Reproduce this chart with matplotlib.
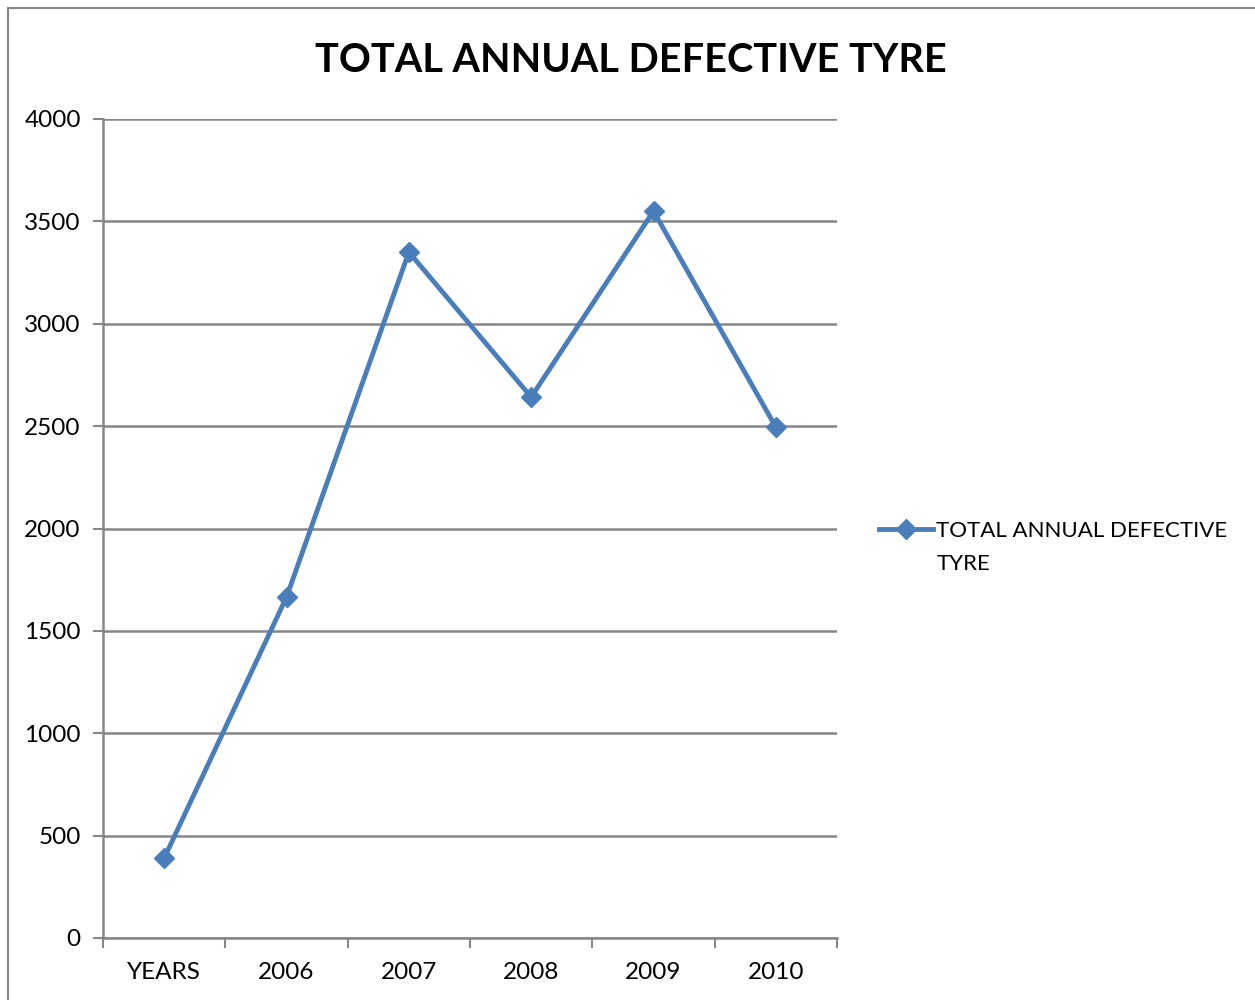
import matplotlib.pyplot as plt
from matplotlib.patches import Rectangle

categories = ["YEARS", "2006", "2007", "2008", "2009", "2010"]
defective = [390, 1665, 3350, 2642, 3550, 2495]
yticks = [0, 500, 1000, 1500, 2000, 2500, 3000, 3500, 4000]

plt.rcParams['font.family'] = ['Lato', 'DejaVu Sans']
grey = '#868686'
blue = '#4a7ebb'

fig = plt.figure(figsize=(12.55, 10), dpi=100)
fig.patches.append(Rectangle((8 / 1255, -0.1), 1.2, 0.1 + 992 / 1000, transform=fig.transFigure,
                             fill=False, edgecolor=grey, linewidth=1.5))

ax = fig.add_axes([103 / 1255, 62 / 1000, 734 / 1255, 819 / 1000])
x = list(range(len(categories)))
ax.plot(x, defective, color=blue, linewidth=3.5, marker='D', markersize=10,
        label="TOTAL ANNUAL DEFECTIVE")

ax.set_xlim(-0.5, len(categories) - 0.5)
ax.set_ylim(0, 4000)
ax.set_yticks(yticks)
ax.set_yticklabels([str(v) for v in yticks], fontsize=17.5)
ax.set_xticks(x)
ax.set_xticklabels(categories, fontsize=17.5)
ax.set_xticks([i - 0.5 for i in range(len(categories) + 1)], minor=True)
ax.tick_params(axis='x', which='major', length=0, pad=17)
ax.tick_params(axis='x', which='minor', length=7, width=1.5, color=grey)
ax.tick_params(axis='y', length=7, width=1.5, color=grey, pad=9)
ax.grid(axis='y', color=grey, linewidth=1.8)
ax.set_axisbelow(True)
for s in ['top', 'right']:
    ax.spines[s].set_visible(False)
for s in ['left', 'bottom']:
    ax.spines[s].set_color(grey)
    ax.spines[s].set_linewidth(1.8)

fig.text(631 / 1255, 1 - 60 / 1000, "TOTAL ANNUAL DEFECTIVE TYRE", ha='center', va='center',
         fontsize=28.5, fontweight='bold')

fig.legend(loc='center left', bbox_to_anchor=(879 / 1255, 1 - 531 / 1000), frameon=False,
           fontsize=16, handlelength=2.45, handletextpad=0.1, borderpad=0, borderaxespad=0)
fig.text(937 / 1255, 1 - 564 / 1000, "TYRE", ha='left', va='center', fontsize=16)

fig.savefig("out.png", dpi=100)
